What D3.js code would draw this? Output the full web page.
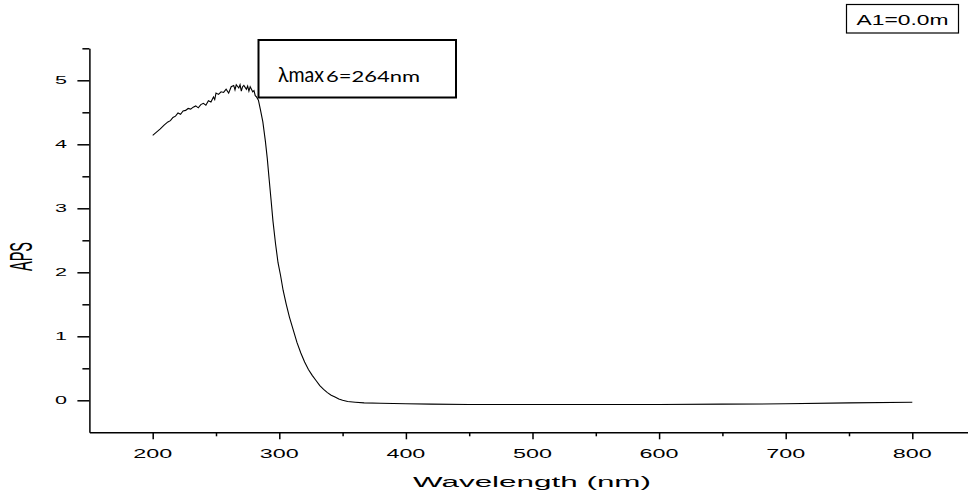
<!DOCTYPE html>
<html><head><meta charset="utf-8">
<script src="https://cdn.jsdelivr.net/npm/d3@7"></script>
<style>html,body{margin:0;padding:0;background:#fff;}svg{display:block;}</style>
</head><body>
<svg id="c" width="968" height="497"></svg>
<script>
// ---- data ----
const wavelength = [200,203,206,209,212,214,216,218,220,222,224,226,228,230,232,234,236,238,240,242,244,246,248,249,250,252,254,256,258,260,262,264,265,266,268,269,270,271,272,274,275,276,277,278,279,280,281,282,283.5,285,287,289,290.5,292,293.5,295,297,299,301,303,305.5,308,311,314,317,320,323,326,329,332,335,338,341,344,347,350,354,360,367,380,400,420,450,500,550,600,650,700,750,800];
const absorbance = [4.14,4.19,4.24,4.30,4.35,4.37,4.42,4.44,4.49,4.47,4.52,4.53,4.56,4.55,4.58,4.60,4.57,4.62,4.64,4.61,4.68,4.66,4.74,4.70,4.80,4.78,4.82,4.81,4.86,4.80,4.90,4.92,4.85,4.93,4.88,4.93,4.83,4.90,4.92,4.86,4.91,4.83,4.90,4.86,4.82,4.84,4.76,4.74,4.69,4.55,4.35,4.05,3.78,3.45,3.13,2.80,2.45,2.15,1.95,1.72,1.50,1.30,1.10,0.90,0.74,0.60,0.48,0.39,0.31,0.23,0.17,0.12,0.08,0.05,0.02,0.00,-0.02,-0.03,-0.04,-0.045,-0.055,-0.06,-0.065,-0.065,-0.065,-0.065,-0.06,-0.055,-0.04,-0.03];
const xMajorTicks = [200,300,400,500,600,700,800];
const xMinorTicks = [250,350,450,550,650,750,850];
const yMajorTicks = [0,1,2,3,4,5];
const yMinorTicks = [0.5,1.5,2.5,3.5,4.5,5.5];
const xTitle = "Wavelength (nm)";
const yTitle = "APS";
const annotationMain = "λmax";
const annotationSub = "6=264nm";
const legendText = "A1=0.0m";

const svg = d3.select("#c");
const x = d3.scaleLinear().domain([150, 850]).range([89.4, 975.6]);
const y = d3.scaleLinear().domain([-0.5, 5.5]).range([432.3, 48.3]);
const FONT = "'Liberation Sans', Arial, sans-serif";
const AFONT = "Lato, 'Open Sans', 'Noto Sans', sans-serif";

// curve
const pts = wavelength.map((w,i)=>[w, absorbance[i]]);
svg.append("path").datum(pts)
  .attr("fill","none").attr("stroke","#000").attr("stroke-width",1.1)
  .attr("d", d3.line().x(d=>x(d[0])).y(d=>y(d[1])));

// x axis
const gx = svg.append("g").attr("transform",`translate(0,${y(-0.5)})`);
gx.call(d3.axisBottom(x).tickValues(xMajorTicks).tickSize(7).tickSizeOuter(0).tickFormat(""));
const gxm = svg.append("g").attr("transform",`translate(0,${y(-0.5)})`);
gxm.call(d3.axisBottom(x).tickValues(xMinorTicks).tickSize(4).tickSizeOuter(0).tickFormat(""));
gxm.select(".domain").remove();
// y axis
const gy = svg.append("g").attr("transform",`translate(${x(150)},0)`);
gy.call(d3.axisLeft(y).tickValues(yMajorTicks).tickSize(12).tickSizeOuter(0).tickFormat(""));
const gym = svg.append("g").attr("transform",`translate(${x(150)},0)`);
gym.call(d3.axisLeft(y).tickValues(yMinorTicks).tickSize(7).tickSizeOuter(0).tickFormat(""));
gym.select(".domain").remove();
svg.selectAll(".domain, .tick line").attr("stroke","#000").attr("stroke-width",1.5);

// tick labels
svg.append("g").selectAll("text").data(xMajorTicks).join("text")
  .attr("x", d=>x(d)).attr("y", 458).attr("text-anchor","middle")
  .attr("font-family",FONT).attr("font-size",13)
  .attr("textLength",39).attr("lengthAdjust","spacingAndGlyphs")
  .text(d=>d);
svg.append("g").selectAll("text").data(yMajorTicks).join("text")
  .attr("x", 67).attr("y", d=>y(d)+4).attr("text-anchor","end")
  .attr("font-family",FONT).attr("font-size",11.5)
  .attr("textLength",12).attr("lengthAdjust","spacingAndGlyphs")
  .text(d=>d);

// axis titles
svg.append("text").attr("x",413).attr("y",487)
  .attr("font-family",FONT).attr("font-size",15.5)
  .attr("textLength",238).attr("lengthAdjust","spacingAndGlyphs")
  .text(xTitle);
svg.append("text").attr("transform","translate(31.5,271) rotate(-90)")
  .attr("font-family",FONT).attr("font-size",32)
  .attr("textLength",29).attr("lengthAdjust","spacingAndGlyphs")
  .text(yTitle);

// annotation box
svg.append("rect").attr("x",258.5).attr("y",40).attr("width",197.5).attr("height",57.5)
  .attr("fill","#fff").attr("stroke","#000").attr("stroke-width",2);
svg.append("text").attr("x",278).attr("y",82)
  .attr("font-family",AFONT).attr("font-size",22)
  .attr("textLength",46).attr("lengthAdjust","spacingAndGlyphs")
  .text(annotationMain);
svg.append("text").attr("x",326).attr("y",82)
  .attr("font-family",AFONT).attr("font-size",16)
  .attr("textLength",94).attr("lengthAdjust","spacingAndGlyphs")
  .text(annotationSub);

// legend box
svg.append("rect").attr("x",846.5).attr("y",4.5).attr("width",112).attr("height",28.5)
  .attr("fill","#fff").attr("stroke","#000").attr("stroke-width",1.2);
svg.append("text").attr("x",902.5).attr("y",25).attr("text-anchor","middle")
  .attr("font-family",FONT).attr("font-size",14)
  .attr("textLength",92).attr("lengthAdjust","spacingAndGlyphs")
  .text(legendText);
</script>
</body></html>
